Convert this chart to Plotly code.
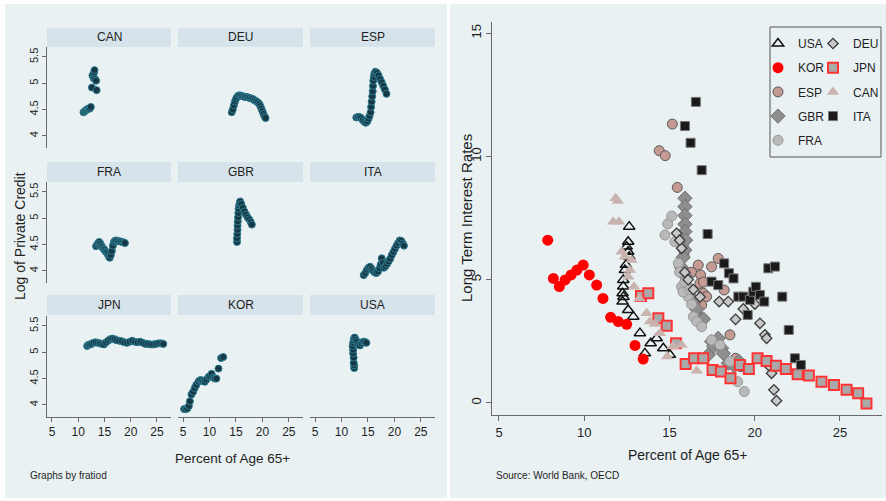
import plotly.graph_objects as go

W, H = 886, 501

# ---------------- Left panel data: Percent of Age 65+ vs Log of Private Credit ----------------
facet_order = ["CAN", "DEU", "ESP", "FRA", "GBR", "ITA", "JPN", "KOR", "USA"]

can_age = [11.0, 11.2, 11.4, 11.6, 11.8, 12.0, 12.2, 12.4, 12.6, 12.7, 12.9, 13.0, 13.1, 13.2, 13.4, 13.5]
can_credit = [4.45, 4.47, 4.48, 4.5, 4.51, 4.52, 4.52, 4.55, 4.92, 5.15, 5.1, 5.2, 5.25, 5.08, 5.05, 4.87]

deu_age = [14.2, 14.4, 14.6, 14.8, 15.0, 15.2, 15.5, 15.8, 16.1, 16.4, 16.7, 17.0, 17.3, 17.6, 17.9, 18.2,
           18.5, 18.8, 19.1, 19.4, 19.6, 19.8, 20.0, 20.2, 20.4, 20.6]
deu_credit = [4.45, 4.5, 4.58, 4.65, 4.7, 4.74, 4.77, 4.77, 4.76, 4.75, 4.74, 4.74, 4.73, 4.72, 4.71, 4.7,
              4.68, 4.66, 4.64, 4.61, 4.57, 4.52, 4.47, 4.42, 4.37, 4.34]

esp_age = [12.8, 13.1, 13.4, 13.7, 14.0, 14.3, 14.6, 14.9, 15.1, 15.3, 15.5, 15.6, 15.7, 15.8, 15.9, 15.95,
           16.0, 16.1, 16.2, 16.4, 16.7, 17.0, 17.3, 17.6, 17.9, 18.2, 18.5]
esp_credit = [4.35, 4.36, 4.36, 4.34, 4.3, 4.27, 4.25, 4.28, 4.33, 4.38, 4.45, 4.55, 4.65, 4.75, 4.85, 4.95,
              5.05, 5.12, 5.18, 5.22, 5.2, 5.15, 5.08, 5.02, 4.95, 4.88, 4.8]

fra_age = [13.4, 13.6, 13.8, 14.0, 14.2, 14.4, 14.6, 14.8, 15.0, 15.2, 15.4, 15.6, 15.8, 16.0, 16.2, 16.4,
           16.6, 16.8, 17.0, 17.2, 17.5, 17.8, 18.1, 18.4, 18.7, 18.9]
fra_credit = [4.47, 4.5, 4.53, 4.55, 4.52, 4.48, 4.45, 4.42, 4.4, 4.37, 4.35, 4.32, 4.28, 4.25, 4.3, 4.38,
              4.48, 4.55, 4.57, 4.58, 4.57, 4.56, 4.56, 4.55, 4.54, 4.53]

gbr_age = [15.2, 15.2, 15.25, 15.3, 15.3, 15.35, 15.4, 15.45, 15.5, 15.6, 15.7, 15.8, 16.0, 16.3, 16.6, 16.9,
           17.2, 17.5, 17.8, 18.0]
gbr_credit = [4.55, 4.62, 4.7, 4.78, 4.86, 4.94, 5.02, 5.1, 5.18, 5.24, 5.28, 5.32, 5.27, 5.2, 5.13, 5.07,
              5.02, 4.98, 4.93, 4.88]

ita_age = [14.2, 14.5, 14.8, 15.1, 15.4, 15.7, 16.0, 16.3, 16.6, 16.9, 17.2, 17.4, 17.6, 17.8, 18.0, 18.3,
           18.6, 18.9, 19.2, 19.5, 19.8, 20.1, 20.4, 20.7, 21.0, 21.3, 21.6, 21.8]
ita_credit = [3.92, 3.96, 4.02, 4.06, 4.08, 4.04, 4.0, 3.97, 3.96, 3.99, 4.05, 4.12, 4.24, 4.15, 4.06, 4.09,
              4.13, 4.18, 4.23, 4.3, 4.36, 4.42, 4.48, 4.53, 4.58, 4.57, 4.52, 4.48]

jpn_age = [11.7, 11.9, 12.2, 12.5, 12.9, 13.3, 13.7, 14.1, 14.5, 14.9, 15.3, 15.7, 16.1, 16.5, 16.9, 17.3,
           17.8, 18.3, 18.8, 19.3, 19.8, 20.3, 20.8, 21.3, 21.8, 22.3, 22.8, 23.3, 23.8, 24.3, 24.8, 25.3,
           25.8, 26.2]
jpn_credit = [5.12, 5.14, 5.15, 5.16, 5.18, 5.19, 5.18, 5.17, 5.16, 5.15, 5.19, 5.22, 5.25, 5.26, 5.25, 5.23,
              5.22, 5.21, 5.19, 5.18, 5.2, 5.22, 5.2, 5.19, 5.2, 5.18, 5.16, 5.16, 5.15, 5.15, 5.16, 5.17,
              5.17, 5.16]

kor_age = [5.2, 5.5, 5.8, 6.1, 6.3, 6.6, 6.9, 7.2, 7.5, 7.9, 8.2, 8.5, 8.8, 9.1, 9.4, 9.8, 10.1, 10.4,
           10.7, 11.0, 11.3, 11.7, 12.2, 12.6]
kor_credit = [3.92, 3.92, 3.93, 3.98, 4.07, 4.2, 4.25, 4.32, 4.38, 4.44, 4.47, 4.47, 4.45, 4.44, 4.48, 4.53,
              4.55, 4.59, 4.52, 4.5, 4.5, 4.69, 4.89, 4.91]

usa_age = [12.4, 12.4, 12.3, 12.3, 12.2, 12.2, 12.1, 12.2, 12.3, 12.4, 12.5, 12.7, 12.9, 13.2, 13.5, 13.8,
           14.1, 14.4, 14.7]
usa_credit = [4.7, 4.75, 4.8, 4.9, 4.98, 5.05, 5.12, 5.18, 5.23, 5.27, 5.28, 5.24, 5.2, 5.15, 5.13, 5.17,
              5.2, 5.2, 5.18]

facet_data = {
    "CAN": (can_age, can_credit), "DEU": (deu_age, deu_credit), "ESP": (esp_age, esp_credit),
    "FRA": (fra_age, fra_credit), "GBR": (gbr_age, gbr_credit), "ITA": (ita_age, ita_credit),
    "JPN": (jpn_age, jpn_credit), "KOR": (kor_age, kor_credit), "USA": (usa_age, usa_credit),
}

# ---------------- Right panel data: Percent of Age 65+ vs Long Term Interest Rates ----------------
r_usa_age = [12.64, 12.58, 12.49, 12.58, 12.64, 12.45, 12.39, 12.29, 12.29, 12.25, 12.25, 12.3, 12.58,
             12.88, 13.27, 13.56, 13.9, 14.25, 14.64, 15.03]
r_usa_rate = [7.15, 6.54, 6.34, 6.13, 5.93, 5.6, 5.39, 4.99, 4.72, 4.45, 4.11, 4.3, 3.77, 3.5, 2.83, 2.01,
              2.42, 2.62, 2.22, 1.95]

r_kor_age = [7.86, 8.19, 8.54, 8.88, 9.23, 9.57, 9.94, 10.3, 10.73, 11.1, 11.55, 12.0, 12.49, 12.98, 13.46]
r_kor_rate = [6.6, 5.05, 4.72, 4.99, 5.19, 5.39, 5.59, 5.19, 4.78, 4.24, 3.47, 3.3, 3.19, 2.33, 1.78]

r_esp_age = [14.4, 14.75, 15.17, 15.46, 15.81, 15.85, 16.3, 16.69, 16.83, 16.79, 16.98, 17.18, 16.89,
             16.79, 17.47, 17.86, 18.21, 18.55, 18.88, 19.19, 16.5, 16.6, 17.0]
r_esp_rate = [10.23, 10.03, 11.31, 8.74, 6.43, 6.0, 5.3, 5.59, 5.19, 4.85, 4.45, 4.31, 3.97, 3.43, 5.52,
              5.86, 4.58, 2.76, 1.81, 1.47, 4.1, 3.7, 4.9]

r_gbr_age = [15.91, 15.91, 15.91, 15.91, 15.91, 15.95, 15.9, 15.8, 15.7, 16.0, 16.2, 16.4, 16.6, 17.0,
             17.28, 17.47, 17.6, 17.86, 18.06, 18.16, 18.45, 18.8, 19.08]
r_gbr_rate = [8.3, 7.96, 7.6, 7.25, 6.95, 6.6, 6.2, 5.9, 5.5, 5.1, 4.6, 4.2, 3.8, 3.4, 1.95, 2.49, 2.3,
              2.62, 2.22, 2.01, 1.61, 1.5, 1.68]

r_fra_age = [14.9, 15.13, 14.74, 15.32, 15.52, 15.6, 15.71, 15.9, 16.1, 16.3, 16.4, 16.6, 16.89, 17.47,
             17.96, 18.55, 19.0, 19.39, 15.8, 16.2]
r_fra_rate = [7.26, 7.58, 6.81, 6.54, 5.66, 5.3, 4.71, 4.9, 4.31, 4.0, 3.5, 3.3, 3.09, 2.55, 2.35, 1.68,
              0.86, 0.46, 4.5, 4.6]

r_deu_age = [15.42, 15.71, 15.6, 15.9, 16.1, 16.4, 16.8, 17.92, 18.45, 18.88, 19.33, 20.01, 20.31, 20.6,
             20.7, 20.89, 20.99, 21.13, 21.28]
r_deu_rate = [6.88, 6.27, 6.6, 5.3, 5.0, 4.6, 4.3, 4.11, 4.11, 3.39, 3.81, 4.01, 3.23, 2.76, 2.62, 1.47,
              1.2, 0.53, 0.09]

r_jpn_age = [13.33, 13.76, 14.35, 14.84, 15.39, 15.95, 16.45, 16.98, 17.53, 18.02, 18.58, 19.13, 19.66,
             20.17, 20.7, 21.25, 21.83, 22.52, 23.18, 23.92, 24.65, 25.39, 26.07, 26.56]
r_jpn_rate = [4.34, 4.45, 3.43, 3.13, 2.42, 1.58, 1.81, 1.81, 1.34, 1.27, 1.0, 1.54, 1.38, 1.81, 1.7, 1.51,
              1.38, 1.16, 1.11, 0.86, 0.73, 0.53, 0.39, -0.02]

r_can_age = [11.84, 11.96, 11.7, 12.04, 12.2, 12.39, 12.58, 12.68, 12.77, 12.92, 13.23, 13.66, 13.86,
             14.15, 14.44, 14.87, 15.2, 15.71, 16.6]
r_can_rate = [8.3, 8.19, 7.35, 7.35, 6.13, 5.93, 5.12, 5.39, 5.8, 4.71, 4.24, 3.64, 3.3, 3.2, 2.83, 1.88,
              2.3, 2.35, 1.3]

r_ita_age = [15.91, 16.24, 16.55, 16.89, 17.24, 17.47, 17.86, 18.21, 18.49, 18.76, 19.04, 19.33, 19.59,
             19.72, 19.92, 20.07, 20.31, 20.56, 20.8, 21.19, 21.62, 22.0, 22.36, 22.71]
r_ita_rate = [11.23, 10.55, 12.21, 9.44, 6.85, 4.92, 4.78, 5.66, 5.26, 5.05, 4.31, 4.31, 3.57, 4.18, 4.51,
              4.71, 4.38, 4.11, 5.46, 5.53, 4.31, 2.96, 1.81, 1.54]

# ---------------- Text ----------------
left_xtitle = "Percent of Age 65+"
left_ytitle = "Log of Private Credit"
left_note = "Graphs by fratiod"
right_xtitle = "Percent of Age 65+"
right_ytitle = "Long Term Interest Rates"
right_note = "Source: World Bank, OECD"

left_xticks = [5, 10, 15, 20, 25]
left_yticks = [4, 4.5, 5, 5.5]
left_yticklabels = ["4", "4.5", "5", "5.5"]
right_xticks = [5, 10, 15, 20, 25]
right_yticks = [0, 5, 10, 15]

# ---------------- Styling ----------------
BG = "#E9F1F3"
STRIP = "#D7E3EA"
TXT = "#1e1e1e"
FONT = "Liberation Sans, Arial, sans-serif"
AXCOL = "#6a6a6a"


def fx(px):
    return px / W


def fy(py):
    return 1 - py / H


fig = go.Figure()
shapes = []
annotations = []

# panel backgrounds
shapes.append(dict(type="rect", xref="paper", yref="paper", x0=fx(5), x1=fx(447), y0=fy(498), y1=fy(4),
                   fillcolor=BG, line=dict(width=0), layer="below"))
shapes.append(dict(type="rect", xref="paper", yref="paper", x0=fx(450), x1=fx(886), y0=fy(498), y1=fy(4),
                   fillcolor=BG, line=dict(width=0), layer="below"))

cols = [(47, 171), (178, 303), (310, 435)]
rows = [(47, 148), (182, 283), (316, 417)]
strips = [(28, 47), (162, 182), (295, 315)]

layout_axes = {}
for i, c in enumerate(facet_order):
    r, k = divmod(i, 3)
    n = i + 1
    xs, ys = facet_data[c]
    fig.add_trace(go.Scatter(
        x=xs, y=ys, mode="markers", xaxis=f"x{n}", yaxis=f"y{n}", showlegend=False,
        marker=dict(size=7, color="#163845", line=dict(color="#2d7b90", width=1)),
    ))
    xname = "xaxis" if n == 1 else f"xaxis{n}"
    yname = "yaxis" if n == 1 else f"yaxis{n}"
    bottom = r == 2
    left = k == 0
    layout_axes[xname] = dict(
        domain=[fx(cols[k][0]), fx(cols[k][1])], range=[4.05, 27.67], anchor=f"y{n}",
        showgrid=False, zeroline=False, showline=bottom, linecolor=AXCOL, linewidth=1,
        ticks="outside" if bottom else "", ticklen=4, tickcolor=AXCOL,
        tickvals=left_xticks, showticklabels=bottom,
        tickfont=dict(family=FONT, size=12, color=TXT),
    )
    layout_axes[yname] = dict(
        domain=[fy(rows[r][1]), fy(rows[r][0])], range=[3.77, 5.69], anchor=f"x{n}",
        showgrid=False, zeroline=False, showline=left, linecolor=AXCOL, linewidth=1,
        ticks="outside" if left else "", ticklen=4, tickcolor=AXCOL,
        tickvals=left_yticks, ticktext=left_yticklabels, showticklabels=left, tickangle=-90,
        tickfont=dict(family=FONT, size=11, color=TXT),
    )
    shapes.append(dict(type="rect", xref="paper", yref="paper", x0=fx(cols[k][0]), x1=fx(cols[k][1]),
                       y0=fy(strips[r][1]), y1=fy(strips[r][0]), fillcolor=STRIP, line=dict(width=0),
                       layer="below"))
    annotations.append(dict(text=c, xref="paper", yref="paper", x=fx((cols[k][0] + cols[k][1]) / 2),
                            y=fy((strips[r][0] + strips[r][1]) / 2), showarrow=False, xanchor="center",
                            yanchor="middle", font=dict(family=FONT, size=12, color=TXT)))

# right panel
right_series = [
    ("USA", r_usa_age, r_usa_rate, dict(symbol="triangle-up-open", size=10, color="#111111",
                                        line=dict(color="#111111", width=1.5)), "legend"),
    ("KOR", r_kor_age, r_kor_rate, dict(symbol="circle", size=11, color="#ff0000",
                                        line=dict(color="#ff0000", width=0)), "legend"),
    ("ESP", r_esp_age, r_esp_rate, dict(symbol="circle", size=10, color="#c49a92",
                                        line=dict(color="#5a5a5a", width=1)), "legend"),
    ("GBR", r_gbr_age, r_gbr_rate, dict(symbol="diamond", size=11, color="#8e8e8e",
                                        line=dict(color="#6e6e6e", width=1)), "legend"),
    ("FRA", r_fra_age, r_fra_rate, dict(symbol="circle", size=10, color="#b9b9b9",
                                        line=dict(color="#979797", width=1)), "legend"),
    ("DEU", r_deu_age, r_deu_rate, dict(symbol="diamond", size=8, color="#c8c8c8",
                                        line=dict(color="#3a3a3a", width=1.3)), "legend2"),
    ("JPN", r_jpn_age, r_jpn_rate, dict(symbol="square", size=10, color="#a9a9a9",
                                        line=dict(color="#ff3333", width=2)), "legend2"),
    ("CAN", r_can_age, r_can_rate, dict(symbol="triangle-up", size=11, color="#c9b3ae",
                                        line=dict(color="#c9b3ae", width=0)), "legend2"),
    ("ITA", r_ita_age, r_ita_rate, dict(symbol="square", size=9, color="#1a1a1a",
                                        line=dict(color="#777777", width=1)), "legend2"),
]
for name, xs, ys, mk, lg in right_series:
    fig.add_trace(go.Scatter(x=xs, y=ys, mode="markers", name=name, xaxis="x10", yaxis="y10",
                             marker=mk, legend=lg, legendgroup=name))

layout_axes["xaxis10"] = dict(
    domain=[fx(492), fx(882)], range=[4.59, 27.47], anchor="y10",
    showgrid=False, zeroline=False, showline=True, linecolor=AXCOL, linewidth=1,
    ticks="outside", ticklen=5, tickcolor=AXCOL, tickvals=right_xticks,
    tickfont=dict(family=FONT, size=13, color=TXT),
)
layout_axes["yaxis10"] = dict(
    domain=[fy(415), fy(22)], range=[-0.49, 15.45], anchor="x10",
    showgrid=False, zeroline=False, showline=True, linecolor=AXCOL, linewidth=1,
    ticks="outside", ticklen=5, tickcolor=AXCOL, tickvals=right_yticks, tickangle=-90,
    tickfont=dict(family=FONT, size=13, color=TXT),
)

# legend frame
shapes.append(dict(type="rect", xref="paper", yref="paper", x0=fx(770), x1=fx(881), y0=fy(157), y1=fy(27),
                   fillcolor="rgba(0,0,0,0)", line=dict(color="#555555", width=1)))

# titles and notes
annotations += [
    dict(text=left_xtitle, xref="paper", yref="paper", x=fx(232), y=fy(458), showarrow=False,
         xanchor="center", yanchor="middle", font=dict(family=FONT, size=13.5, color=TXT)),
    dict(text=left_ytitle, xref="paper", yref="paper", x=fx(20), y=fy(236), showarrow=False, textangle=-90,
         xanchor="center", yanchor="middle", font=dict(family=FONT, size=14, color=TXT)),
    dict(text=left_note, xref="paper", yref="paper", x=fx(28), y=fy(475), showarrow=False,
         xanchor="left", yanchor="middle", font=dict(family=FONT, size=10, color=TXT)),
    dict(text=right_xtitle, xref="paper", yref="paper", x=fx(687), y=fy(455), showarrow=False,
         xanchor="center", yanchor="middle", font=dict(family=FONT, size=14, color=TXT)),
    dict(text=right_ytitle, xref="paper", yref="paper", x=fx(467), y=fy(218), showarrow=False, textangle=-90,
         xanchor="center", yanchor="middle", font=dict(family=FONT, size=15, color=TXT)),
    dict(text=right_note, xref="paper", yref="paper", x=fx(494), y=fy(475), showarrow=False,
         xanchor="left", yanchor="middle", font=dict(family=FONT, size=10, color=TXT)),
]

legend_common = dict(xanchor="left", yanchor="top", bgcolor="rgba(0,0,0,0)", borderwidth=0,
                     orientation="v", tracegroupgap=5.2, itemclick=False, indentation=-9,
                     font=dict(family=FONT, size=12, color=TXT))
fig.update_layout(
    width=W, height=H, margin=dict(l=0, r=0, t=0, b=0, autoexpand=False),
    paper_bgcolor="white", plot_bgcolor="rgba(0,0,0,0)",
    shapes=shapes, annotations=annotations, showlegend=True,
    legend=dict(x=fx(767), y=fy(29), **legend_common),
    legend2=dict(x=fx(822), y=fy(29), **legend_common),
    **layout_axes,
)

fig.write_html("out.html")
